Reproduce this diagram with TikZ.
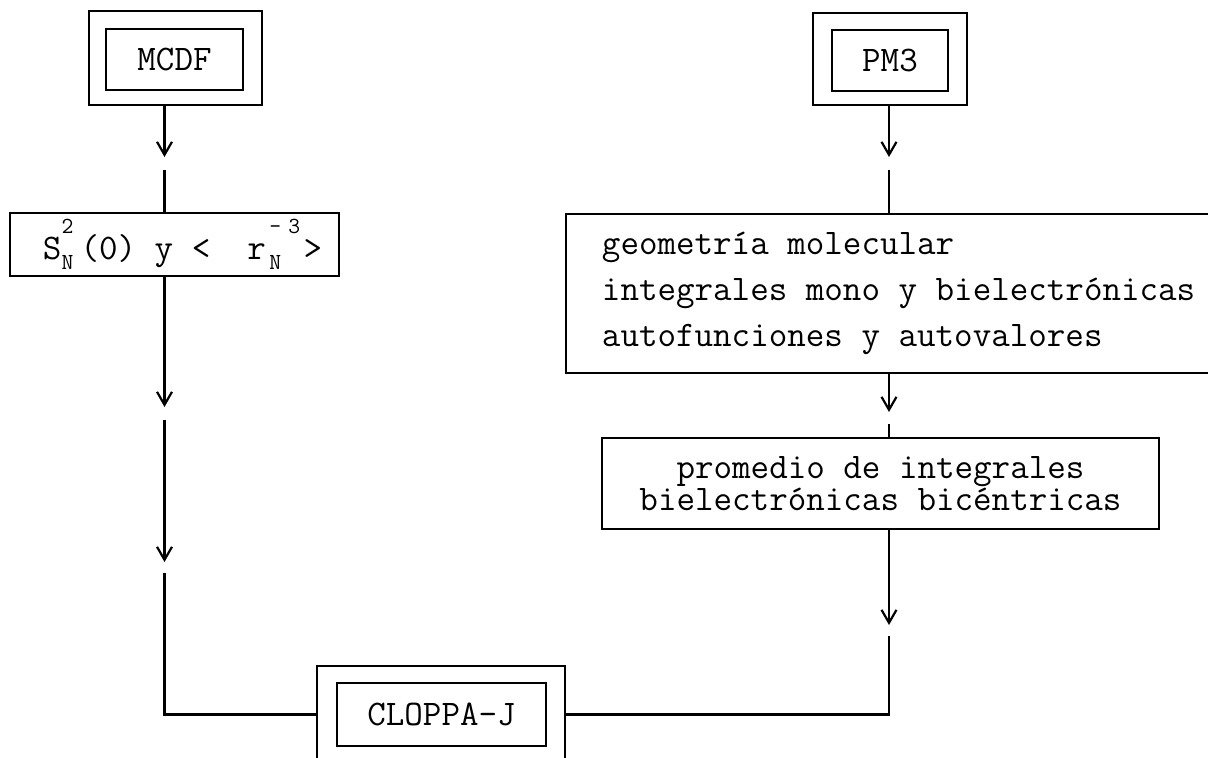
\documentclass[tikz,border=0pt]{standalone}
\usepackage{fontspec}
\usetikzlibrary{arrows.meta}
\newcommand\pcell[1]{\hbox to 18.9pt{\hss#1\hss}}
\newcommand\supsub[3]{\hbox to #1{\rlap{\raise26pt\hbox{\fontsize{23}{23}\selectfont #2}}\lower10pt\hbox{\fontsize{23}{23}\selectfont #3}\hss}}
\begin{document}
\begin{tikzpicture}[x=1pt,y=-1pt,
  flow/.style={line width=2.2pt},
  arrowed/.style={-{Straight Barb[length=13pt,width=15pt]}},
  box/.style={draw,line width=2.2pt,inner sep=0pt,font={\ttfamily\fontsize{36}{46}\selectfont}},
]
\useasboundingbox (0,0) rectangle (1208,758);
\clip (0,0) rectangle (1208,758);

% MCDF double box
\node[box,minimum width=173pt,minimum height=94pt] (mcdfO) at (175.5,58) {};
\node[box,minimum width=137pt,minimum height=61pt] (mcdfI) at (174.5,59.5) {MCDF};

% PM3 double box
\node[box,minimum width=154pt,minimum height=92pt] (pmO) at (890,59) {};
\node[box,minimum width=116pt,minimum height=61pt] (pmI) at (890,60.5) {PM3};

% S box
\node[box,minimum width=329pt,minimum height=63pt] (sbox) at (174.5,244.5)
  {\hspace*{16pt}\pcell{S}\supsub{18.9pt}{2}{N}(0) y < \ r\supsub{37.8pt}{\pcell{-}\pcell{3}}{\pcell{N}}>};

% big box
\node[box,anchor=north west,minimum width=665pt,minimum height=159pt,align=left] (big) at (565,213)
  {geometría molecular\\integrales mono y bielectrónicas\\autofunciones y autovalores};

% promedio box
\node[box,minimum width=557pt,minimum height=91pt,align=center,
      font={\ttfamily\fontsize{36}{32}\selectfont}] (prom) at (880.5,483.5)
  {promedio de integrales\\bielectrónicas bicéntricas};

% CLOPPA-J double box
\node[box,minimum width=248pt,minimum height=97pt] (cloO) at (441,714.5) {};
\node[box,minimum width=209pt,minimum height=63pt] (cloI) at (441.5,714.5) {CLOPPA-J};

% left column
\coordinate (l1) at (164.5,157);
\coordinate (l2) at (164.5,170);
\coordinate (l3) at (164.5,407);
\coordinate (l4) at (164.5,420);
\coordinate (l5) at (164.5,562);
\coordinate (l6) at (164.5,573);
\draw[flow,arrowed] (mcdfO.south -| l1) -- (l1);
\draw[flow] (l2) -- (sbox.north -| l2);
\draw[flow,arrowed] (sbox.south -| l3) -- (l3);
\draw[flow,arrowed] (l4) -- (l5);
\draw[flow] (l6) -- (l6 |- cloO.west) -- (cloO.west);

% right column
\coordinate (r1) at (889,157);
\coordinate (r2) at (889,170);
\coordinate (r3) at (889,412);
\coordinate (r4) at (889,424);
\coordinate (r5) at (889,625);
\coordinate (r6) at (889,636);
\draw[flow,arrowed] (pmO.south -| r1) -- (r1);
\draw[flow] (r2) -- (big.north -| r2);
\draw[flow,arrowed] (big.south -| r3) -- (r3);
\draw[flow] (r4) -- (prom.north -| r4);
\draw[flow,arrowed] (prom.south -| r5) -- (r5);
\draw[flow] (r6) -- (r6 |- cloO.east) -- (cloO.east);
\end{tikzpicture}
\end{document}
